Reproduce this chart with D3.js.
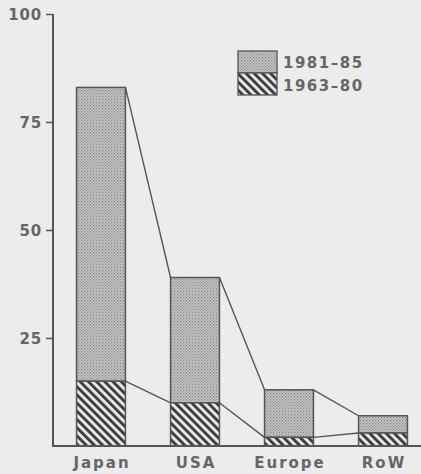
<!DOCTYPE html>
<html>
<head>
<meta charset="utf-8">
<script src="https://cdn.jsdelivr.net/npm/d3@7"></script>
<style>
  html, body { margin: 0; padding: 0; background: #ececec; }
  svg { display: block; }
</style>
</head>
<body>
<div id="chart"></div>
<script>
// data
const regions = ["Japan", "USA", "Europe", "RoW"];
const early = [15, 10, 2, 3];      // 1963-80
const late = [68, 29, 11, 4];      // 1981-85
const yTicks = [25, 50, 75, 100];
const seriesNames = ["1981–85", "1963–80"];

const width = 421, height = 474;
const ink = "#555";
const textInk = "#666";

const svg = d3.select("#chart").append("svg")
    .attr("width", width)
    .attr("height", height)
    .style("font-family", "'DejaVu Sans', sans-serif")
    .style("font-weight", "bold");

// patterns: fine stipple and diagonal hatch
const defs = svg.append("defs");
const dots = defs.append("pattern")
    .attr("id", "dots")
    .attr("width", 3).attr("height", 3)
    .attr("patternUnits", "userSpaceOnUse");
dots.append("rect").attr("width", 3).attr("height", 3).attr("fill", "#c8c8c8");
dots.append("rect").attr("width", 1.3).attr("height", 1.3).attr("fill", "#858585");
dots.append("rect").attr("x", 1.5).attr("y", 1.5).attr("width", 1.3).attr("height", 1.3).attr("fill", "#9a9a9a");

const hatch = defs.append("pattern")
    .attr("id", "hatch")
    .attr("width", 5.8).attr("height", 10)
    .attr("patternUnits", "userSpaceOnUse")
    .attr("patternTransform", "rotate(-45)");
hatch.append("rect").attr("width", 5.8).attr("height", 10).attr("fill", "#e6e6e6");
hatch.append("rect").attr("width", 2.8).attr("height", 10).attr("fill", "#3a3a3a");

const x = d3.scaleBand()
    .domain(regions)
    .range([54, 430])
    .paddingInner(0.48)
    .paddingOuter(0.24);

const y = d3.scaleLinear()
    .domain([0, 100])
    .range([446, 14]);

const rows = regions.map((r, i) => ({
    name: r,
    early: early[i],
    total: early[i] + late[i]
}));

// connecting lines, right top corner to next left top corner
const links = [];
for (let i = 0; i < rows.length - 1; i++) {
    ["total", "early"].forEach(k => {
        links.push({
            x1: x(rows[i].name) + x.bandwidth(), y1: y(rows[i][k]),
            x2: x(rows[i + 1].name), y2: y(rows[i + 1][k])
        });
    });
}
svg.append("g").selectAll("line")
    .data(links)
    .join("line")
    .attr("x1", d => d.x1).attr("y1", d => d.y1)
    .attr("x2", d => d.x2).attr("y2", d => d.y2)
    .attr("stroke", ink)
    .attr("stroke-width", 1.4);

// bars
const bars = svg.append("g");
bars.selectAll(".late")
    .data(rows)
    .join("rect")
    .attr("class", "late")
    .attr("x", d => x(d.name))
    .attr("width", x.bandwidth())
    .attr("y", d => y(d.total))
    .attr("height", d => y(d.early) - y(d.total))
    .attr("fill", "url(#dots)")
    .attr("stroke", ink)
    .attr("stroke-width", 1.5);
bars.selectAll(".early")
    .data(rows)
    .join("rect")
    .attr("class", "early")
    .attr("x", d => x(d.name))
    .attr("width", x.bandwidth())
    .attr("y", d => y(d.early))
    .attr("height", d => y(0) - y(d.early))
    .attr("fill", "url(#hatch)")
    .attr("stroke", ink)
    .attr("stroke-width", 1.5);

// y axis
const yAxis = svg.append("g")
    .attr("transform", "translate(53,0)")
    .call(d3.axisLeft(y).tickValues(yTicks).tickSize(7).tickPadding(4));
yAxis.attr("font-family", null).attr("font-size", null);
yAxis.select(".domain")
    .attr("d", `M0,${y(100)}V${y(0)}`)
    .attr("stroke", ink)
    .attr("stroke-width", 2);
yAxis.selectAll(".tick line").attr("stroke", ink).attr("stroke-width", 1.5);
yAxis.selectAll(".tick text")
    .attr("fill", textInk)
    .attr("dy", "0.38em")
    .style("font-size", "15px")
    .style("letter-spacing", "0.8px");

// baseline
svg.append("line")
    .attr("x1", 52).attr("x2", width)
    .attr("y1", y(0)).attr("y2", y(0))
    .attr("stroke", ink)
    .attr("stroke-width", 2);

// category labels
svg.append("g").selectAll("text")
    .data(regions)
    .join("text")
    .attr("x", d => x(d) + x.bandwidth() / 2 + 1)
    .attr("y", 468)
    .attr("text-anchor", "middle")
    .attr("fill", textInk)
    .style("font-size", "15px")
    .style("letter-spacing", "2px")
    .text(d => d);

// legend
const legend = svg.append("g").attr("transform", "translate(238,51)");
legend.selectAll("rect")
    .data(["url(#dots)", "url(#hatch)"])
    .join("rect")
    .attr("x", 0)
    .attr("y", (d, i) => i * 22)
    .attr("width", 39)
    .attr("height", 22)
    .attr("fill", d => d)
    .attr("stroke", ink)
    .attr("stroke-width", 1.3);
legend.selectAll("text")
    .data(seriesNames)
    .join("text")
    .attr("x", 45)
    .attr("y", (d, i) => 17 + i * 23)
    .attr("fill", textInk)
    .style("font-size", "15px")
    .style("letter-spacing", "1.5px")
    .text(d => d);
</script>
</body>
</html>
